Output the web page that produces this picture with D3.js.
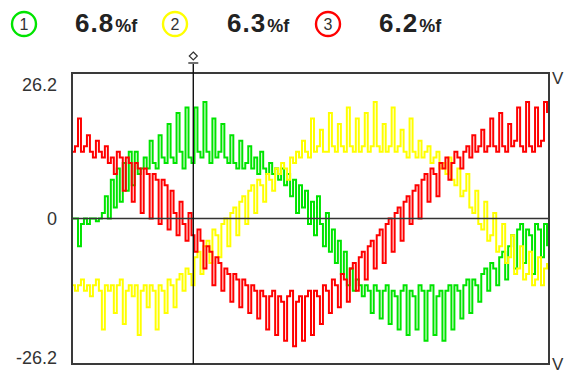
<!DOCTYPE html>
<html>
<head>
<meta charset="utf-8">
<script src="https://cdn.jsdelivr.net/npm/d3@7/dist/d3.min.js"></script>
<style>
  html, body { margin: 0; padding: 0; background: #fff; }
  svg { display: block; }
</style>
</head>
<body>
<svg id="chart" width="564" height="376"></svg>
<script>
// Harmonic distortion per phase, in % of fundamental
const phases = ["1", "2", "3"];
const thdValues = [6.8, 6.3, 6.2];
const phaseColors = ["#00e400", "#ffff00", "#ff0000"];

// Vertical range of the trace window (V)
const yTicks = [-26.2, 0, 26.2];

// Sampled voltage traces, one value per sample (V)
const green = [
  0, 0, -5, -1, 0, -1, 0, 0, -0.5, 0,
  1, 4, 0, 7, 2, 9, 3, 10, 5, 12,
  6, 12, 8, 9, 11, 9, 14, 10, 9, 15,
  11, 10, 17, 11, 10, 19, 12, 9, 20, 11,
  10, 20, 12, 11, 21, 12, 10, 18, 11, 12,
  17, 11, 10, 15, 10, 9, 14, 9, 10, 13,
  9, 11, 8, 12, 9, 8, 10, 8, 9, 7,
  9, 6, 8, 4, 7, 1, 6, 2, 5, -1,
  3, -3, 4, -1, -5, 1, -6, -2, -8, -4,
  -10, -6, -12, -9, -13, -11, -12, -14, -12, -13,
  -17, -12, -13, -18, -13, -12, -19, -13, -14, -20,
  -13, -12, -21, -13, -14, -20, -12, -13, -22, -13,
  -12, -21, -14, -13, -22, -13, -12, -20, -12, -13,
  -18, -12, -11, -17, -11, -12, -15, -10, -9, -13,
  -8, -9, -12, -7, -6, -11, -5, -3, -9, -2,
  -1, -8, -2, -3, -10, -1, -2, -7, -1, -5
];
const yellow = [
  -12, -13, -12, -11, -13, -12, -14, -12, -11, -13,
  -20, -12, -13, -12, -17, -12, -11, -19, -13, -12,
  -14, -12, -21, -13, -12, -16, -12, -13, -20, -12,
  -13, -17, -11, -12, -16, -11, -10, -13, -9, -10,
  -12, -7, -6, -10, -5, -4, -8, -2, -3, -7,
  -1, 0, -5, 1, 2, -3, 3, 4, -1, 5,
  6, 1, 7, 6, 3, 8, 7, 5, 9, 8,
  10, 9, 7, 11, 10, 12, 11, 14, 12, 11,
  18, 12, 13, 16, 12, 12, 19, 13, 12, 17,
  13, 12, 20, 13, 12, 18, 12, 13, 19, 12,
  13, 21, 13, 12, 17, 12, 13, 20, 12, 13,
  16, 12, 11, 18, 12, 11, 14, 11, 12, 13,
  10, 11, 12, 9, 10, 8, 11, 7, 6, 9,
  4, 5, 8, 2, 1, 5, -1, -2, 3, -4,
  -3, 1, -6, -5, -1, -8, -7, -3, -10, -9,
  -5, -11, -10, -6, -12, -11, -7, -12, -9, -8
];
const red = [
  12, 13, 18, 12, 13, 15, 12, 11, 14, 12,
  11, 13, 10, 11, 8, 12, 11, 5, 11, 10,
  3, 10, 9, 1, 9, 8, 0, 8, 7, -1,
  7, 6, -2, 5, 1, -3, 3, -1, -4, 1,
  -3, -6, -2, -4, -9, -5, -6, -12, -7, -8,
  -13, -9, -10, -15, -10, -11, -16, -11, -12, -17,
  -12, -13, -18, -13, -14, -20, -14, -13, -21, -14,
  -15, -22, -14, -13, -23, -15, -14, -22, -14, -13,
  -21, -13, -14, -19, -12, -13, -17, -11, -12, -16,
  -10, -11, -15, -9, -8, -13, -7, -6, -11, -5,
  -4, -9, -3, -2, -8, -1, 0, -6, 1, 2,
  -4, 3, 4, -1, 5, 6, 0, 7, 8, 3,
  9, 8, 4, 10, 9, 11, 7, 10, 12, 11,
  9, 12, 13, 11, 15, 12, 13, 16, 12, 13,
  18, 13, 12, 19, 13, 12, 17, 13, 14, 20,
  13, 12, 21, 13, 12, 20, 13, 14, 21, 19
];
const traces = [green, yellow, red];

// Cursor position (sample index)
const cursorIndex = 40.6;

const svg = d3.select("#chart");
const box = { left: 72, right: 549, top: 73, bottom: 364 };

const x = d3.scaleLinear().domain([0, green.length - 1]).range([box.left, box.right - 2]);
const y = d3.scaleLinear().domain([-26.2, 26.2]).range([box.bottom, box.top]);

// Header: circled phase numbers and their distortion readings
const headerX = [24, 175, 328];
const valueX = [75, 227, 379];
const head = svg.append("g");
phases.forEach((p, i) => {
  head.append("circle")
    .attr("cx", headerX[i]).attr("cy", 24).attr("r", 12)
    .attr("fill", "none").attr("stroke", phaseColors[i]).attr("stroke-width", 2.4);
  head.append("text")
    .attr("x", headerX[i]).attr("y", 30)
    .attr("text-anchor", "middle")
    .attr("font-family", "Liberation Sans, Arial, sans-serif")
    .attr("font-size", 16).attr("fill", "#333")
    .text(p);
  const t = head.append("text")
    .attr("x", valueX[i]).attr("y", 32)
    .attr("font-family", "Liberation Sans, Arial, sans-serif")
    .attr("font-weight", "bold").attr("fill", "#222");
  t.append("tspan").attr("font-size", 26).attr("letter-spacing", 1)
    .text(thdValues[i].toFixed(1));
  t.append("tspan").attr("font-size", 18).attr("dx", 1).text("%f");
});

// Traces
const line = d3.line()
  .x((d, i) => x(i))
  .y(d => y(d))
  .curve(d3.curveStepAfter);

svg.append("clipPath").attr("id", "plotClip")
  .append("rect")
  .attr("x", box.left).attr("y", box.top)
  .attr("width", box.right - box.left).attr("height", box.bottom - box.top);

const plot = svg.append("g").attr("clip-path", "url(#plotClip)");
traces.forEach((vals, i) => {
  plot.append("path")
    .datum(vals)
    .attr("fill", "none")
    .attr("stroke", phaseColors[i])
    .attr("stroke-width", 2)
    .attr("d", line);
});

// Zero line
svg.append("line")
  .attr("x1", box.left).attr("x2", box.right)
  .attr("y1", y(0)).attr("y2", y(0))
  .attr("stroke", "#333").attr("stroke-width", 1.6);

// Frame
svg.append("rect")
  .attr("x", box.left).attr("y", box.top)
  .attr("width", box.right - box.left).attr("height", box.bottom - box.top)
  .attr("fill", "none").attr("stroke", "#3a3a3a").attr("stroke-width", 2);

// Cursor line and marker
const cx = x(cursorIndex);
svg.append("line")
  .attr("x1", cx).attr("x2", cx)
  .attr("y1", 64).attr("y2", box.bottom)
  .attr("stroke", "#111").attr("stroke-width", 1.4);
svg.append("path")
  .attr("d", `M${cx},52 L${cx + 4},56 L${cx},60 L${cx - 4},56 Z`)
  .attr("fill", "none").attr("stroke", "#333").attr("stroke-width", 1.2);
svg.append("line")
  .attr("x1", cx - 5).attr("x2", cx + 5)
  .attr("y1", 63).attr("y2", 63)
  .attr("stroke", "#333").attr("stroke-width", 1.4);

// Left value axis
const axis = d3.axisLeft(y).tickValues(yTicks).tickSize(0).tickPadding(0)
  .tickFormat(d => d === 0 ? "0" : d.toFixed(1));
const ag = svg.append("g").attr("transform", "translate(57,0)").call(axis);
ag.select(".domain").remove();
ag.selectAll("text")
  .attr("font-family", "Liberation Sans, Arial, sans-serif")
  .attr("font-size", 18).attr("fill", "#333")
  .attr("dy", d => d > 0 ? "0.95em" : d < 0 ? "-0.05em" : "0.32em");

// Unit labels at the right edge
[[78, "V"], [364, "V"]].forEach(([yy, txt]) => {
  svg.append("text")
    .attr("x", 552).attr("y", yy + 6)
    .attr("font-family", "Liberation Sans, Arial, sans-serif")
    .attr("font-size", 17).attr("fill", "#333")
    .text(txt);
});
</script>
</body>
</html>
